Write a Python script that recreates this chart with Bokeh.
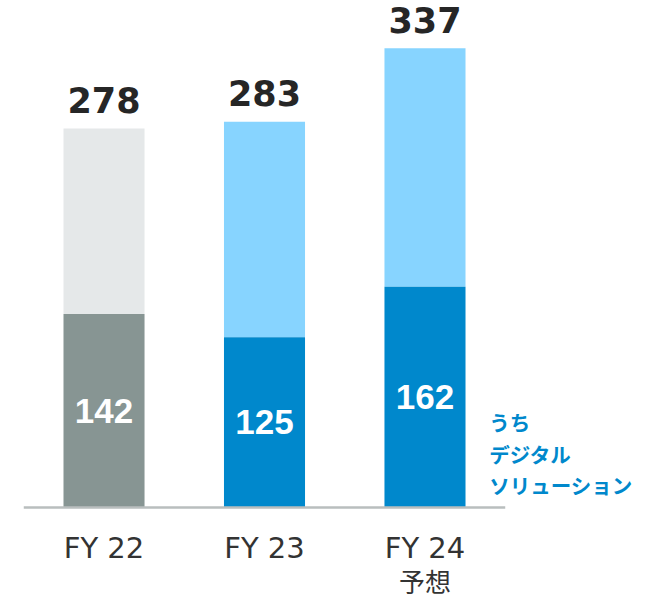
from bokeh.plotting import figure
from bokeh.models import Range1d, ColumnDataSource
from bokeh.core.properties import value
from bokeh.embed import file_html
from bokeh.resources import INLINE

categories = ["FY 22", "FY 23", "FY 24"]
sub_labels = ["", "", "予想"]
totals = [278, 283, 337]
digital = [142, 125, 162]
dark_colors = ["#879593", "#0088cc", "#0088cc"]
light_colors = ["#e5e8e9", "#87d4ff", "#87d4ff"]
side_label = "うち\nデジタル\nソリューション"

x = list(range(len(categories)))
src = ColumnDataSource(dict(
    x=x, total=totals, digital=digital,
    mid=[d / 2 for d in digital],
    total_lbl=[str(t) for t in totals],
    dig_lbl=[str(d) for d in digital],
    dark=dark_colors, light=light_colors,
    cat=categories, sub=sub_labels,
    zero=[0] * len(x),
))

p = figure(width=658, height=600, output_backend="svg", toolbar_location=None,
           x_range=Range1d(-0.645, 3.455), y_range=Range1d(-68.2, 372.0),
           min_border=0)
p.axis.visible = False
p.grid.visible = False
p.outline_line_color = None
p.background_fill_color = "white"

p.vbar(x="x", bottom="digital", top="total", width=0.505, fill_color="light",
       line_color=None, source=src)
p.vbar(x="x", bottom="zero", top="digital", width=0.505, fill_color="dark",
       line_color=None, source=src)

p.segment(x0=-0.5, x1=2.5, y0=0, y1=0, line_color="#b9bebe", line_width=2.5)

# totals above bars
src.data["total_y"] = [t + 21 for t in totals]
p.text(x="x", y="total_y", text="total_lbl", source=src,
       text_font=value("DejaVu Sans"), text_font_style="bold",
       text_font_size="35px", text_color="#262626",
       text_align="center", text_baseline="alphabetic")

# digital values inside bars
p.text(x="x", y="mid", text="dig_lbl", source=src,
       text_font=value("Liberation Sans"), text_font_style="bold",
       text_font_size="35px", text_color="white",
       text_align="center", text_baseline="middle")

# category labels
src.data["cat_y"] = [-30] * len(x)
src.data["sub_y"] = [-53.5] * len(x)
p.text(x="x", y="cat_y", text="cat", source=src,
       text_font=value("DejaVu Sans"), text_font_size="29px",
       text_color="#333333", text_align="center", text_baseline="middle")
p.text(x="x", y="sub_y", text="sub", source=src,
       text_font=value("Noto Sans CJK JP"), text_font_size="26px",
       text_color="#333333", text_align="center", text_baseline="middle")

# side label
p.text(x=[2.40], y=[39.5], text=[side_label],
       text_font=value("Noto Sans CJK JP"), text_font_style="bold",
       text_font_size="20.5px", text_color="#0088cc",
       text_align="left", text_baseline="middle", text_line_height=1.05)

open("out.html", "w").write(file_html(p, INLINE))
